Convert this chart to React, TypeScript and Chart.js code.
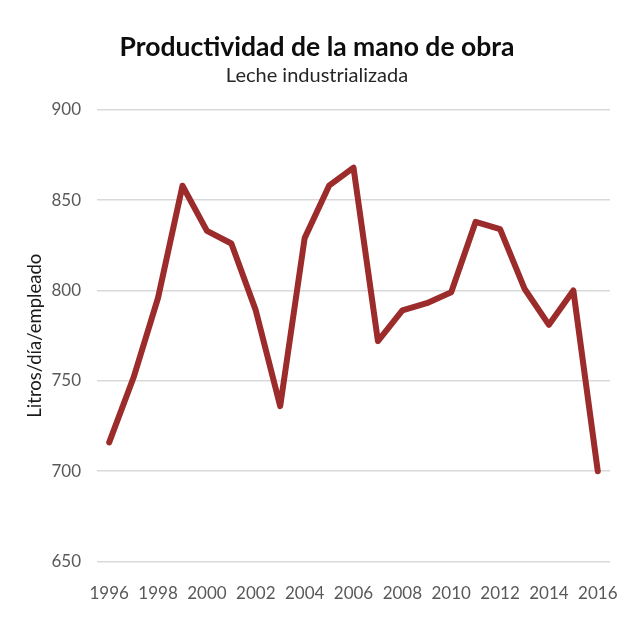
import React, { useEffect, useRef } from "react";
import { Chart, registerables } from "chart.js";

Chart.register(...registerables);

const years = [
  "1996", "1997", "1998", "1999", "2000", "2001", "2002", "2003", "2004", "2005", "2006",
  "2007", "2008", "2009", "2010", "2011", "2012", "2013", "2014", "2015", "2016",
];
const productividad = [
  716, 752, 796, 858, 833, 826, 789, 736, 829, 858, 868,
  772, 789, 793, 799, 838, 834, 801, 781, 800, 700,
];
const titleText = "Productividad de la mano de obra";
const subtitleText = "Leche industrializada";
const yAxisLabel = "Litros/día/empleado";
const yMin = 650;
const yMax = 900;
const yStep = 50;

export default function App() {
  const ref = useRef<HTMLCanvasElement | null>(null);
  useEffect(() => {
    if (!ref.current) return;
    const font = "Lato, 'Open Sans', sans-serif";
    const chart = new Chart(ref.current, {
      type: "line",
      data: {
        labels: years,
        datasets: [
          {
            data: productividad,
            borderColor: "#9c2b2b",
            backgroundColor: "#9c2b2b",
            borderWidth: 6,
            pointRadius: 0,
            tension: 0,
            borderJoinStyle: "round",
            borderCapStyle: "round",
            fill: false,
          },
        ],
      },
      options: {
        responsive: false,
        animation: false,
        layout: { padding: { left: 24, right: 17, top: 32, bottom: 8 } },
        plugins: {
          legend: { display: false },
          tooltip: { enabled: false },
          title: {
            display: true,
            text: titleText,
            color: "#0d0d0d",
            font: { family: font, size: 26.5, weight: "bold", lineHeight: 1.2 },
            padding: { top: 0, bottom: 0 },
          },
          subtitle: {
            display: true,
            text: subtitleText,
            color: "#262626",
            font: { family: font, size: 20, lineHeight: 1.2 },
            padding: { top: 0, bottom: 22 },
          },
        },
        scales: {
          x: {
            offset: true,
            afterFit: (scale: any) => {
              scale.paddingRight = 0;
              scale.paddingLeft = 0;
            },
            grid: { display: false },
            border: { display: false },
            ticks: {
              autoSkip: false,
              maxRotation: 0,
              color: "#595959",
              font: { family: font, size: 17 },
              padding: 14,
              callback: (_v: any, i: number) => (i % 2 === 0 ? years[i] : ""),
            },
          },
          y: {
            min: yMin,
            max: yMax,
            afterFit: (scale: any) => {
              scale.width = 73;
            },
            grid: { color: "#d9d9d9", lineWidth: 1.5, drawTicks: false },
            border: { display: false },
            ticks: {
              stepSize: yStep,
              color: "#595959",
              font: { family: font, size: 17 },
              padding: 16,
            },
            title: {
              display: true,
              text: yAxisLabel,
              color: "#1a1a1a",
              font: { family: font, size: 18.5 },
              padding: { top: 0, bottom: 0 },
            },
          },
        },
      },
    });
    return () => chart.destroy();
  }, []);
  return (
    <div style={{ position: "absolute", left: 0, top: 0, width: 627, height: 626, background: "#fff" }}>
      <canvas ref={ref} width={627} height={626} style={{ display: "block" }} />
    </div>
  );
}
